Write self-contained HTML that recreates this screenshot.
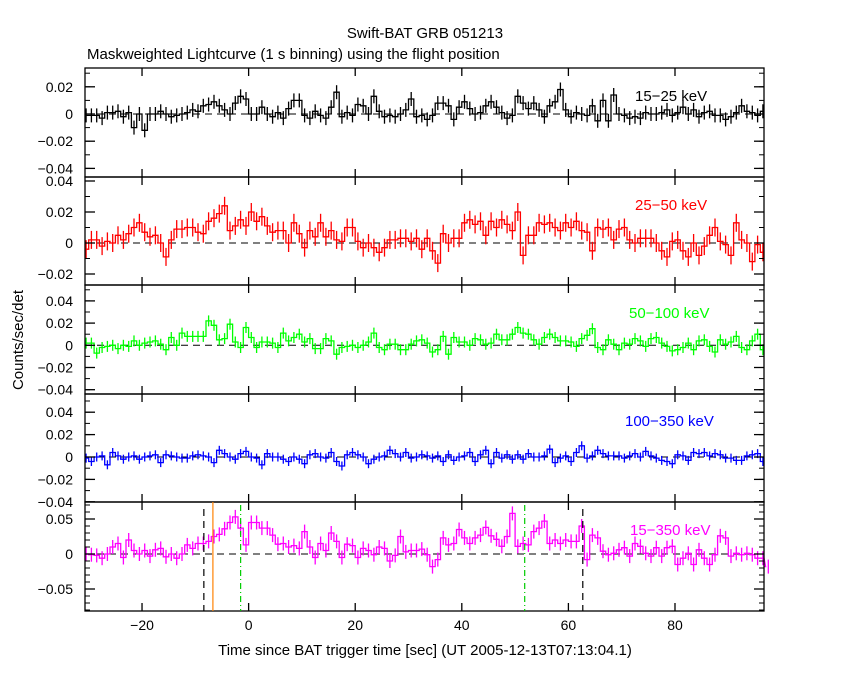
<!DOCTYPE html>
<html><head><meta charset="utf-8"><style>
html,body{margin:0;padding:0;background:#fff;}
svg{display:block;font-family:"Liberation Sans",sans-serif;}
</style></head><body>
<svg id="chart" width="850" height="680" viewBox="0 0 850 680" xmlns="http://www.w3.org/2000/svg">
<rect x="0" y="0" width="850" height="680" fill="#fff"/>
<text x="425" y="38" text-anchor="middle" font-size="15">Swift-BAT GRB 051213</text>
<text x="87" y="59" font-size="15">Maskweighted Lightcurve (1 s binning) using the flight position</text>
<text x="0" y="0" font-size="15" text-anchor="middle" transform="translate(23,340) rotate(-90)">Counts/sec/det</text>
<text x="425" y="655" font-size="15" text-anchor="middle">Time since BAT trigger time [sec] (UT 2005-12-13T07:13:04.1)</text>
<g id="plots"></g>
</svg>
<script>
// time bins (bin centers, s)
const binStart = -30.5;
// values in units of 0.001 counts/sec/det
const band15_25 = [-1,-1,-1,-3,1,1,2,-2,1,-10, 0,-12,0,0,2,0,-2,-1,0,1, 3,2,6,7,9,6,3,0,8,13, 11,0,0,5,0,-2,1,-3,4,10, 10,-1,-3,2,-1,-3,5,16,-2,1, -1,7,6,0,13,2,-2,-1,-2,0, 3,11,-2,-1,-4,-1,8,8,6,-4, 5,9,4,0,1,6,9,5,1,-3, -1,13,8,4,8,3,-2,6,9,18, 3,-2,1,0,-1,6,-5,10,-5,14, 0,-1,-3,-2,-3,1,0,0,1,3, -1,1,5,0,3,-2,1,2,-1,-1, -4,-2,1,6,2,1,-1,2];
const band25_50 = [-4,2,2,-2,1,0,5,2,6,10, 13,7,4,5,0,-9,2,9,9,10, 10,7,6,14,16,19,24,8,11,15, 11,20,14,17,11,7,8,8,0,13, 6,-3,8,4,13,4,8,2,1,10, 10,1,-3,0,-3,-6,-3,2,2,3, 3,1,3,-4,3,-5,-13,6,0,3, 3,13,15,12,14,5,14,10,15,12, 8,20,-8,5,5,13,12,13,10,8, 13,10,14,8,7,-5,10,9,10,2, 9,10,2,0,3,3,3,0,-5,-9, 1,2,-5,-9,0,-8,-2,5,10,1, -1,-8,13,2,0,-12,-1,-6];
const band50_100 = [2,2,-7,-2,-1,0,-3,0,-1,4, 0,2,3,4,1,-4,7,0,11,8, 8,8,8,22,18,5,6,19,3,-2, 16,7,-2,3,3,2,-2,11,4,7, 10,3,6,-3,-3,6,4,-8,-2,-1, 0,-2,0,3,11,-2,-4,1,1,-4, -4,1,4,5,2,-6,-4,8,-8,7, 3,3,0,6,5,1,2,10,5,5, 10,16,11,10,5,1,7,10,7,4, 4,3,-1,6,9,15,-2,-4,5,1, -4,2,1,6,4,-1,6,7,2,-1, -5,-4,-2,2,-4,4,5,-1,-6,5, 1,3,8,-2,-4,4,10,-4];
const band100_350 = [-1,-4,0,1,-7,4,1,-2,0,1, -2,0,1,2,-5,2,1,0,-1,-1, 1,2,1,0,-5,6,3,0,-2,3, 5,0,-1,-7,3,0,0,-2,-4,0, -2,-6,2,3,0,-1,4,-4,-8,2, 4,2,0,-6,-2,0,1,6,3,0, 4,-1,0,2,1,-1,1,-4,2,-3, 0,1,4,-4,2,6,-6,4,-1,2, -2,2,-2,3,0,0,1,7,-5,-1, 1,-4,4,10,-1,1,6,3,1,1, 1,-1,1,3,0,5,1,-1,-3,-4, -6,2,1,-3,4,3,4,1,3,2, -1,-1,-3,-3,1,2,3,-4];
const band15_350 = [0,-1,-2,-6,0,10,15,-5,20,5, 0,5,-3,6,8,-4,0,-6,0,13, 8,15,15,18,25,28,36,45,53,37, 13,45,45,37,37,27,14,15,10,12, 8,32,10,-5,15,5,30,18,-5,14, 12,-5,8,5,-1,10,8,-10,-2,25, 3,5,5, 7,-1,-18,-8,23,13,15,35,23,15, 23,27,38,26,21,11,25,58,11,15, 13,32,37,47,15,20,15,20,18,18, 40,-8,27,23,4,-1,1,6,9,-3, 15,11,1,-3,9,-3,9,11,-15,-6, 1,-15,6,-6,-15,-1,26,23,-3,1, -1,1,-1,-6,-6,-18];
// y ticks per panel (values in counts/sec/det)
const ticks1 = ["0.02","0","-0.02","-0.04"];
const ticks2 = ["0.04","0.02","0","-0.02"];
const ticks3 = ["0.04","0.02","0","-0.02","-0.04"];
const ticks4 = ["0.04","0.02","0","-0.02","-0.04"];
const ticks5 = ["0.05","0","-0.05"];
const xTicks = [-20,0,20,40,60,80];
const bandLabels = ["15\u221225 keV","25\u221250 keV","50\u2212100 keV","100\u2212350 keV","15\u2212350 keV"];
const eventTimes = [-8.4,-6.7,-1.5,51.8,62.7];

const X0=85, X1=764, T0=-30.7, T1=96.7;
function xs(t){return X0+(t-T0)/(T1-T0)*(X1-X0);}
const panels=[
 {top:68,bot:177,zeroY:114,per:27.2/0.02,data:band15_25,ticks:ticks1,minor:0.01,col:"#000",err:7,lab:[635,101],name:"15-25"},
 {top:177,bot:285,zeroY:243,per:31/0.02,data:band25_50,ticks:ticks2,minor:0.01,col:"#ff0000",err:9,lab:[635,210],name:"25-50"},
 {top:285,bot:394,zeroY:345.3,per:22.2/0.02,data:band50_100,ticks:ticks3,minor:0.01,col:"#00ff00",err:5.5,lab:[629,318],name:"50-100"},
 {top:394,bot:502,zeroY:457,per:22.4/0.02,data:band100_350,ticks:ticks4,minor:0.01,col:"#0000ff",err:4.5,lab:[625,426],name:"100-350"},
 {top:502,bot:611,zeroY:554,per:35/0.05,data:band15_350,ticks:ticks5,minor:0.01,col:"#ff00ff",err:7,lab:[630,535],name:"15-350"}
];
const NS="http://www.w3.org/2000/svg";
const root=document.getElementById('plots');
function mk(tag,attrs,parent){const e=document.createElementNS(NS,tag);for(const k in attrs)e.setAttribute(k,attrs[k]);(parent||root).appendChild(e);return e;}
panels.forEach((p,pi)=>{
 const g=mk('g',{});
 
 
 const ys=v=>p.zeroY-v*p.per;
 const z=mk('line',{x1:X0,x2:X1,y1:p.zeroY,y2:p.zeroY,stroke:"#000","stroke-width":1,"stroke-dasharray":"7,5"},g);
 
 
 let d="";
 p.data.forEach((v,i)=>{
  const t=binStart+i;const xa=Math.max(X0,xs(t-0.5)),xb=Math.min(X1,xs(t+0.5));const y=ys(v/1000);
  d+=(i===0?"M":"L")+xa.toFixed(1)+","+y.toFixed(1)+"L"+xb.toFixed(1)+","+y.toFixed(1);
  const eb=mk('line',{x1:xs(t).toFixed(1),x2:xs(t).toFixed(1),y1:(y-p.err).toFixed(1),y2:(y+p.err).toFixed(1),stroke:p.col,"stroke-width":1.3},g);
  
  
 });
 const path=mk('path',{d:d,fill:"none",stroke:p.col,"stroke-width":1.3},g);
 
 
 const fr=mk('rect',{x:X0,y:p.top,width:X1-X0,height:p.bot-p.top,fill:"none",stroke:"#000","stroke-width":1.3},g);
 
 
 xTicks.forEach(t=>{const x=xs(t);
  mk('line',{x1:x,x2:x,y1:p.top,y2:p.top+8,stroke:"#000","stroke-width":1.3},g);
  mk('line',{x1:x,x2:x,y1:p.bot,y2:p.bot-8,stroke:"#000","stroke-width":1.3},g);
 });
 const vmin=(p.zeroY-p.bot)/p.per, vmax=(p.zeroY-p.top)/p.per;
 for(let k=Math.ceil(vmin/p.minor-1e-6);k*p.minor<=vmax+1e-9;k++){const y=ys(k*p.minor);
  mk('line',{x1:X0,x2:X0+5,y1:y,y2:y,stroke:"#000","stroke-width":1},g);
  mk('line',{x1:X1,x2:X1-5,y1:y,y2:y,stroke:"#000","stroke-width":1},g);}
 p.ticks.forEach(s=>{const y=ys(parseFloat(s));
  mk('line',{x1:X0,x2:X0+10,y1:y,y2:y,stroke:"#000","stroke-width":1.3},g);
  mk('line',{x1:X1,x2:X1-10,y1:y,y2:y,stroke:"#000","stroke-width":1.3},g);
  const tx=mk('text',{x:73,y:y+5,"text-anchor":"end","font-size":14},g);
  tx.textContent=s.replace('-','\u2212');
  
  
 });
 const lb=mk('text',{x:p.lab[0],y:p.lab[1],"font-size":15,fill:p.col},g);
 lb.textContent=bandLabels[pi];
 
 
});
const p5=panels[4];
const evStyles=[{c:"#000",dash:"7,5",top:p5.top+7},{c:"#ff8000",dash:"",top:p5.top},{c:"#00cc00",dash:"6,3,1,3",top:p5.top+3},{c:"#00cc00",dash:"6,3,1,3",top:p5.top+3},{c:"#000",dash:"7,5",top:p5.top+7}];
eventTimes.forEach((t,i)=>{const s=evStyles[i];
 const l=mk('line',{x1:xs(t),x2:xs(t),y1:s.top,y2:p5.bot,stroke:s.c,"stroke-width":1.2,"stroke-dasharray":s.dash});
 
 
});
xTicks.forEach(t=>{const tx=mk('text',{x:xs(t),y:630,"text-anchor":"middle","font-size":14});
 tx.textContent=String(t).replace('-','\u2212');
 
 
});
</script>
</body></html>
